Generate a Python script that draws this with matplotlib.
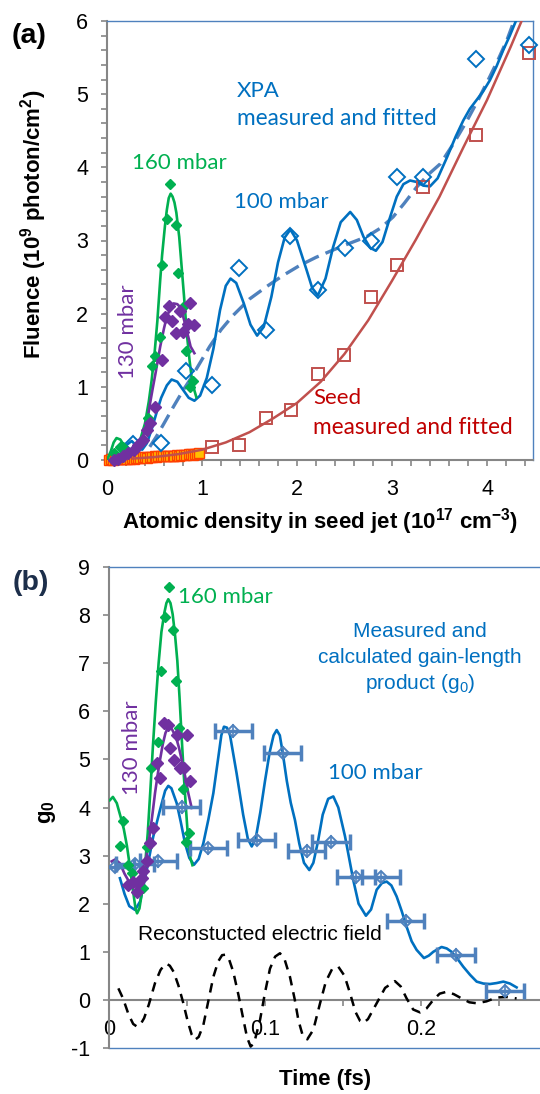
import matplotlib
matplotlib.use("Agg")
import matplotlib.pyplot as plt
from matplotlib.ticker import MultipleLocator, FixedLocator

plt.rcParams['font.family'] = 'Liberation Sans'
plt.rcParams['mathtext.fontset'] = 'custom'
plt.rcParams['mathtext.rm'] = 'Liberation Sans'
plt.rcParams['mathtext.bf'] = 'Liberation Sans:bold'
plt.rcParams['mathtext.it'] = 'Liberation Sans:italic'
plt.rcParams['axes.unicode_minus'] = False

# colours
GREEN = '#00b050'
PURPLE = '#7030a0'
BLUE = '#0070c0'
LBLUE = '#4f81bd'
RED = '#c0504d'
GRAY = '#868686'

# ---------------- panel (a) data ----------------
# XPA 100 mbar measured
xpa_x = [0.27, 0.57, 0.83, 1.10, 1.39, 1.67, 1.93, 2.22, 2.50, 2.78, 3.05, 3.33, 3.88, 4.44]
xpa_y = [0.22, 0.23, 1.21, 1.03, 2.62, 1.78, 3.06, 2.33, 2.90, 2.99, 3.87, 3.87, 5.48, 5.67]
# XPA fit (oscillating)
xpa_fit_x = [0.15, 0.20, 0.26, 0.32, 0.37, 0.42, 0.47, 0.52, 0.57, 0.63, 0.68, 0.74, 0.80, 0.86,
             0.92, 0.98, 1.05, 1.12, 1.19, 1.25, 1.30, 1.36, 1.44, 1.51, 1.58, 1.65, 1.73, 1.80,
             1.87, 1.93, 2.00, 2.10, 2.16, 2.22, 2.30, 2.38, 2.46, 2.56, 2.63, 2.70, 2.77, 2.83,
             2.90, 2.98, 3.05, 3.12, 3.19, 3.26, 3.33, 3.40, 3.48, 3.58, 3.67, 3.75, 3.82, 3.89,
             3.96, 4.03, 4.10, 4.17, 4.24, 4.32]
xpa_fit_y = [0.10, 0.20, 0.26, 0.18, 0.14, 0.23, 0.42, 0.64, 0.85, 1.02, 1.10, 1.07, 0.96, 0.85,
             0.81, 0.88, 1.12, 1.52, 2.05, 2.38, 2.48, 2.42, 2.14, 1.85, 1.70, 1.82, 2.23, 2.70,
             3.04, 3.15, 3.00, 2.60, 2.35, 2.25, 2.48, 2.91, 3.25, 3.39, 3.28, 3.05, 2.90, 2.86,
             2.98, 3.32, 3.60, 3.77, 3.82, 3.80, 3.75, 3.74, 3.85, 4.14, 4.42, 4.64, 4.80, 4.92,
             5.04, 5.19, 5.38, 5.60, 5.80, 6.05]
# XPA fit (smooth, dashed)
xpa_dash_x = [0.45, 0.52, 0.60, 0.70, 0.80, 0.87, 0.98, 1.08, 1.20, 1.33, 1.50, 1.68, 1.85, 2.03,
              2.20, 2.38, 2.55, 2.73, 2.88, 3.01, 3.13, 3.26, 3.38, 3.51, 3.65, 3.79, 3.91, 4.03,
              4.12, 4.21, 4.29]
xpa_dash_y = [0.18, 0.32, 0.50, 0.73, 0.95, 1.09, 1.33, 1.55, 1.78, 1.98, 2.20, 2.37, 2.52, 2.66,
              2.77, 2.87, 2.96, 3.05, 3.17, 3.32, 3.51, 3.73, 3.90, 4.05, 4.33, 4.64, 4.93, 5.24,
              5.48, 5.74, 6.02]
# Seed measured and fitted
seed_x = [1.11, 1.39, 1.67, 1.94, 2.22, 2.49, 2.78, 3.05, 3.33, 3.88, 4.44]
seed_y = [0.18, 0.21, 0.57, 0.68, 1.18, 1.43, 2.23, 2.67, 3.73, 4.44, 5.56]
seed_fit_x = [0.27, 0.50, 0.75, 1.00, 1.25, 1.50, 1.75, 2.00, 2.25, 2.50, 2.75, 3.00, 3.25, 3.50,
              3.75, 4.00, 4.25, 4.38]
seed_fit_y = [0.02, 0.04, 0.08, 0.14, 0.24, 0.38, 0.57, 0.78, 1.07, 1.45, 1.91, 2.45, 3.01, 3.60,
              4.27, 4.92, 5.65, 6.05]
# low density seed points
low_x = [0.02, 0.04, 0.06, 0.08, 0.10, 0.12, 0.15, 0.17, 0.19, 0.21, 0.24, 0.26, 0.28, 0.31,
         0.33, 0.35, 0.38, 0.40, 0.42, 0.45, 0.47, 0.50, 0.52, 0.54, 0.57, 0.59, 0.62, 0.64,
         0.66, 0.69, 0.71, 0.74, 0.76, 0.78, 0.81, 0.83, 0.86, 0.88, 0.90, 0.93, 0.95, 0.97]
low_y = [0.00, 0.01, 0.00, 0.02, 0.01, 0.01, 0.02, 0.01, 0.02, 0.02, 0.02, 0.03, 0.02, 0.03,
         0.03, 0.03, 0.04, 0.04, 0.03, 0.04, 0.04, 0.05, 0.04, 0.05, 0.05, 0.05, 0.06, 0.05,
         0.06, 0.06, 0.06, 0.07, 0.06, 0.07, 0.07, 0.07, 0.08, 0.08, 0.07, 0.08, 0.08, 0.09]
# 160 mbar
g160_x = [0.07, 0.14, 0.17, 0.43, 0.47, 0.51, 0.56, 0.58, 0.63, 0.66, 0.73, 0.75, 0.80, 0.83, 0.87, 0.91]
g160_y = [0.10, 0.18, 0.18, 0.58, 1.28, 1.42, 1.68, 2.67, 3.29, 3.77, 3.21, 2.56, 2.09, 1.49, 1.00, 1.08]
g160_fit_x = [0.00, 0.04, 0.07, 0.10, 0.14, 0.19, 0.24, 0.30, 0.35, 0.40, 0.44, 0.47, 0.50, 0.53,
              0.56, 0.58, 0.61, 0.63, 0.65, 0.67, 0.69, 0.71, 0.73, 0.76, 0.78, 0.81, 0.84, 0.87,
              0.89, 0.92, 0.94]
g160_fit_y = [0.00, 0.12, 0.24, 0.30, 0.28, 0.18, 0.14, 0.18, 0.28, 0.50, 0.80, 1.09, 1.45, 1.90,
              2.46, 2.80, 3.20, 3.42, 3.58, 3.64, 3.60, 3.52, 3.38, 3.05, 2.73, 2.25, 1.73, 1.35,
              1.14, 0.95, 0.86]
# 130 mbar
p130_x = [0.07, 0.12, 0.17, 0.22, 0.28, 0.33, 0.38, 0.42, 0.45, 0.51, 0.58, 0.61, 0.65, 0.68,
          0.73, 0.77, 0.80, 0.85, 0.87, 0.92]
p130_y = [0.00, 0.02, 0.05, 0.09, 0.14, 0.21, 0.27, 0.41, 0.50, 0.73, 1.37, 1.96, 2.10, 1.90,
          1.74, 2.03, 1.75, 1.86, 2.14, 1.84]
p130_fit_x = [0.03, 0.10, 0.18, 0.25, 0.32, 0.38, 0.42, 0.45, 0.48, 0.51, 0.56, 0.60, 0.63, 0.67,
              0.70, 0.74, 0.77, 0.80, 0.83, 0.86, 0.88, 0.92]
p130_fit_y = [0.00, 0.02, 0.06, 0.12, 0.21, 0.33, 0.50, 0.75, 0.97, 1.18, 1.55, 1.80, 1.96, 2.08,
              2.14, 2.13, 2.09, 1.97, 1.82, 1.66, 1.55, 1.46]

# ---------------- panel (b) data ----------------
g0_x = [0.0038, 0.0167, 0.0316, 0.0466, 0.0637, 0.0797, 0.0947, 0.1113, 0.1267, 0.1423,
        0.1583, 0.1744, 0.1902, 0.2224, 0.2538]
g0_y = [2.77, 2.82, 2.88, 4.01, 3.15, 5.59, 3.33, 5.14, 3.10, 3.29, 2.55, 2.55, 1.65, 0.94, 0.19]
g0_err = 0.012
g0_fit_x = [0.007, 0.010, 0.013, 0.0167, 0.020, 0.0242, 0.0284, 0.0327, 0.036, 0.038, 0.040,
            0.0434, 0.046, 0.0487, 0.0515, 0.0545, 0.0575, 0.0605, 0.0637, 0.0669, 0.0701,
            0.072, 0.0737, 0.0756, 0.0776, 0.0818, 0.086, 0.089, 0.0915, 0.094, 0.097, 0.100,
            0.103, 0.1055, 0.1075, 0.1095, 0.1113, 0.114, 0.1165, 0.1192, 0.122, 0.125, 0.1284,
            0.131, 0.134, 0.137, 0.1405, 0.1438, 0.147, 0.1513, 0.1566, 0.160, 0.1647, 0.168,
            0.1716, 0.175, 0.178, 0.181, 0.1844, 0.1876, 0.1908, 0.194, 0.1972, 0.2019, 0.205,
            0.2079, 0.2132, 0.2165, 0.2196, 0.2235, 0.2271, 0.2315, 0.2357, 0.240, 0.2442,
            0.2485, 0.2528, 0.257, 0.2613]
g0_fit_y = [2.53, 2.20, 1.95, 1.87, 2.05, 2.70, 3.40, 3.95, 4.35, 4.45, 4.40, 4.09, 3.70, 3.26,
            2.95, 2.81, 2.93, 3.26, 3.75, 4.30, 5.05, 5.50, 5.68, 5.66, 5.50, 4.71, 3.85, 3.35,
            3.19, 3.35, 3.90, 4.55, 5.15, 5.50, 5.61, 5.50, 5.15, 4.55, 4.10, 3.74, 3.25, 2.85,
            2.70, 2.85, 3.30, 3.85, 4.18, 4.23, 4.00, 3.40, 2.49, 2.00, 1.75, 1.88, 2.29, 2.43,
            2.46, 2.38, 2.15, 1.85, 1.52, 1.22, 1.04, 0.87, 0.92, 1.00, 1.10, 1.07, 1.00, 0.85,
            0.69, 0.52, 0.38, 0.34, 0.33, 0.35, 0.38, 0.34, 0.26]
g2_x = [0.0071, 0.0088, 0.0124, 0.0145, 0.0220, 0.0246, 0.0269, 0.0316, 0.0333, 0.0359, 0.0385,
        0.0412, 0.0429, 0.0449, 0.0472, 0.0494, 0.0515]
g2_y = [3.19, 3.71, 2.81, 2.63, 2.32, 3.17, 4.82, 5.37, 6.83, 7.96, 8.58, 7.68, 6.62, 5.65,
        4.38, 3.29, 3.47]
g2_fit_x = [0.0005, 0.0025, 0.005, 0.0075, 0.0095, 0.0115, 0.0135, 0.0155, 0.0170, 0.0180,
            0.0195, 0.0212, 0.0230, 0.0248, 0.0265, 0.0282, 0.030, 0.0318, 0.0336, 0.0355,
            0.0368, 0.038, 0.0394, 0.0408, 0.0423, 0.0438, 0.0452, 0.0466, 0.0480, 0.0494,
            0.0508, 0.0522, 0.0535]
g2_fit_y = [4.15, 4.22, 4.09, 3.80, 3.55, 3.20, 2.75, 2.25, 1.90, 1.80, 1.90, 2.25, 2.75, 3.45,
            4.35, 5.30, 6.20, 7.00, 7.65, 8.05, 8.25, 8.33, 8.25, 8.02, 7.60, 7.05, 6.30, 5.45,
            4.65, 3.95, 3.30, 2.95, 2.80]
p2_x = [0.0124, 0.0156, 0.0177, 0.0188, 0.0210, 0.0220, 0.0242, 0.0263, 0.0284, 0.0310, 0.0327,
        0.0355, 0.0380, 0.0391, 0.0417, 0.0438, 0.0455, 0.0481, 0.0502, 0.0519]
p2_y = [2.39, 2.46, 2.25, 2.43, 2.53, 2.67, 2.88, 3.26, 3.57, 4.92, 4.61, 5.75, 5.72, 5.23,
        4.99, 5.51, 4.82, 4.82, 5.51, 4.56]
p2_fit_x = [0.0017, 0.004, 0.007, 0.010, 0.013, 0.0155, 0.0175, 0.0195, 0.0215, 0.024, 0.0263,
            0.0280, 0.0295, 0.0312, 0.0327, 0.0345, 0.0362, 0.0378, 0.0391, 0.0405, 0.0420,
            0.0434, 0.0448, 0.0462, 0.0476, 0.0492, 0.0508, 0.0530]
p2_fit_y = [2.88, 2.92, 2.84, 2.62, 2.45, 2.36, 2.36, 2.48, 2.70, 2.98, 3.47, 3.90, 4.30, 4.68,
            4.99, 5.32, 5.55, 5.66, 5.68, 5.62, 5.52, 5.41, 5.25, 5.05, 4.85, 4.58, 4.30, 3.99]
# reconstructed electric field
ef_x = [0.006, 0.009, 0.0125, 0.0155, 0.0177, 0.020, 0.0225, 0.0255, 0.0295, 0.033, 0.0355,
        0.037, 0.039, 0.0415, 0.0445, 0.0475, 0.0505, 0.0530, 0.0551, 0.0575, 0.0605, 0.0635,
        0.0669, 0.070, 0.0725, 0.0745, 0.0770, 0.0797, 0.0830, 0.0861, 0.0885, 0.0908, 0.0930,
        0.0968, 0.1000, 0.1032, 0.1065, 0.1096, 0.1125, 0.116, 0.1190, 0.1214, 0.124, 0.1271,
        0.131, 0.1353, 0.139, 0.143, 0.147, 0.151, 0.1545, 0.158, 0.161, 0.163, 0.166, 0.1716,
        0.177, 0.1833, 0.187, 0.1908, 0.195, 0.1994, 0.2035, 0.2079, 0.212, 0.2165, 0.221,
        0.2261, 0.231, 0.2357, 0.242, 0.2485, 0.255, 0.2613]
ef_y = [0.24, 0.03, -0.30, -0.50, -0.55, -0.52, -0.38, -0.10, 0.35, 0.62, 0.73, 0.75, 0.71,
        0.58, 0.30, -0.05, -0.45, -0.72, -0.83, -0.77, -0.52, -0.05, 0.48, 0.80, 0.93, 0.94,
        0.84, 0.58, 0.10, -0.40, -0.78, -0.97, -0.90, -0.42, 0.15, 0.65, 0.90, 0.97, 0.85,
        0.48, 0.02, -0.42, -0.72, -0.82, -0.62, -0.07, 0.38, 0.64, 0.69, 0.50, 0.14, -0.25,
        -0.44, -0.48, -0.40, -0.07, 0.25, 0.39, 0.28, 0.03, -0.20, -0.26, -0.18, 0.00, 0.13,
        0.17, 0.12, 0.03, -0.05, -0.07, -0.03, 0.05, 0.06, 0.03]


def fx(p):
    return p / 540.0


def fy(p):
    return 1 - p / 1094.0


fig = plt.figure(figsize=(5.4, 10.94), dpi=100)

# ================= panel (a) =================
ax1 = fig.add_axes([fx(107), fy(460), (533 - 107) / 540, (460 - 21) / 1094])
ax1.set_xlim(0, 4.484)
ax1.set_ylim(0, 6)

ax1.plot(low_x, low_y, 's', ms=7, mfc='#ffc000', mec='#ff4000', mew=1, clip_on=False, zorder=3)
ax1.plot(seed_fit_x, seed_fit_y, '-', color=RED, lw=1.8, zorder=4)
ax1.plot(seed_x, seed_y, 's', ms=9, mfc='none', mec=RED, mew=1.4, clip_on=False, zorder=5)
ax1.plot(xpa_dash_x, xpa_dash_y, '--', color=LBLUE, lw=2.4, dashes=(4.5, 2.2), zorder=4)
ax1.plot(xpa_fit_x, xpa_fit_y, '-', color=BLUE, lw=1.9, zorder=4)
ax1.plot(xpa_x, xpa_y, 'D', ms=7.7, mfc='none', mec=BLUE, mew=1.4, clip_on=False, zorder=5)
ax1.plot(g160_fit_x, g160_fit_y, '-', color=GREEN, lw=1.9, zorder=4)
ax1.plot(g160_x, g160_y, 'D', ms=5.3, color=GREEN, clip_on=False, zorder=5)
ax1.plot(p130_fit_x, p130_fit_y, '-', color=PURPLE, lw=1.9, zorder=4)
ax1.plot(p130_x, p130_y, 'D', ms=5.8, color=PURPLE, clip_on=False, zorder=6)

for s in ['top', 'right']:
    ax1.spines[s].set_color(LBLUE)
    ax1.spines[s].set_linewidth(1.0)
for s in ['left', 'bottom']:
    ax1.spines[s].set_color(GRAY)
    ax1.spines[s].set_linewidth(1.5)
ax1.xaxis.set_major_locator(MultipleLocator(1))
ax1.xaxis.set_minor_locator(MultipleLocator(0.2))
ax1.yaxis.set_major_locator(MultipleLocator(1))
ax1.yaxis.set_minor_locator(MultipleLocator(0.2))
ax1.tick_params(which='both', direction='out', length=4.5, width=1.2, color=GRAY,
                labelsize=15.5, pad=9, top=False, right=False)

ax1.text(0.763, 4.06, '160 mbar', color=GREEN, fontsize=16, family='Lato',
         ha='center', va='center')
ax1.text(1.837, 3.53, '100 mbar', color=BLUE, fontsize=16, family='Lato',
         ha='center', va='center')
ax1.text(1.365, 5.05, 'XPA', color=BLUE, fontsize=16, family='Lato', ha='left', va='center')
ax1.text(1.365, 4.67, 'measured and fitted', color=BLUE, fontsize=16.3, family='Lato',
         ha='left', va='center')
ax1.text(2.17, 0.85, 'Seed', color='#c00000', fontsize=16, family='Lato', ha='left', va='center')
ax1.text(2.17, 0.44, 'measured and fitted', color='#c00000', fontsize=16.3, family='Lato',
         ha='left', va='center')
ax1.text(0.22, 1.76, '130 mbar', color=PURPLE, fontsize=16, family='Lato', rotation=90,
         ha='center', va='center')

fig.text(fx(12), fy(36), '(a)', fontsize=20.5, fontweight='bold', ha='left', va='center')
fig.text(fx(34), fy(224), r'Fluence (10$^{\mathbf{9}}$ photon/cm$^{\mathbf{2}}$)',
         fontsize=16, fontweight='bold', rotation=90, ha='center', va='center')
fig.text(fx(320), fy(522), r'Atomic density in seed jet (10$^{\mathbf{17}}$ cm$^{\mathbf{-3}}$)',
         fontsize=16, fontweight='bold', ha='center', va='center')

# ================= panel (b) =================
ax2 = fig.add_axes([fx(109), fy(1048), (540 - 109) / 540, (1048 - 567) / 1094])
ax2.set_xlim(0, 0.2763)
ax2.set_ylim(-1, 9)

ax2.plot(ef_x, ef_y, '--', color='black', lw=1.8, dashes=(3.8, 2.8), zorder=3)
ax2.plot(g0_fit_x, g0_fit_y, '-', color=BLUE, lw=1.9, zorder=4)
ax2.plot(g2_fit_x, g2_fit_y, '-', color=GREEN, lw=1.9, zorder=4)
ax2.plot(p2_fit_x, p2_fit_y, '-', color=PURPLE, lw=1.9, zorder=4)
ax2.errorbar(g0_x, g0_y, xerr=g0_err, fmt='none', ecolor=LBLUE, elinewidth=2.5,
             capsize=5.5, capthick=2.5, zorder=5)
ax2.errorbar(g0_x, g0_y, yerr=0.14, fmt='D', ms=6.3, mfc='none', mec=LBLUE, mew=1.4,
             ecolor=LBLUE, elinewidth=1.2, capsize=0, zorder=6)
ax2.plot(g2_x, g2_y, 'D', ms=5.3, color=GREEN, zorder=7)
ax2.plot(p2_x, p2_y, 'D', ms=5.8, color=PURPLE, zorder=7)

ax2.spines['top'].set_color(LBLUE)
ax2.spines['top'].set_linewidth(1.0)
ax2.spines['right'].set_visible(False)
ax2.spines['left'].set_color(GRAY)
ax2.spines['left'].set_linewidth(1.5)
ax2.spines['bottom'].set_position(('data', 0))
ax2.spines['bottom'].set_color(GRAY)
ax2.spines['bottom'].set_linewidth(1.5)
ax2.axhline(-1, color=LBLUE, lw=1.0, clip_on=False, zorder=2)
ax2.xaxis.set_major_locator(FixedLocator([0, 0.1, 0.2]))
ax2.set_xticklabels(['0', '0.1', '0.2'])
ax2.xaxis.set_minor_locator(MultipleLocator(0.05))
ax2.yaxis.set_major_locator(MultipleLocator(1))
ax2.tick_params(which='both', direction='out', length=4.5, width=1.2, color=GRAY,
                labelsize=15.5, pad=9, top=False, right=False)

ax2.text(0.0444, 8.38, '160 mbar', color=GREEN, fontsize=16, family='Lato',
         ha='left', va='center')
ax2.text(0.01455, 5.24, '130 mbar', color=PURPLE, fontsize=16, family='Lato', rotation=90,
         ha='center', va='center')
ax2.text(0.1404, 4.72, '100 mbar', color=BLUE, fontsize=16, family='Lato',
         ha='left', va='center')
ax2.text(0.1994, 7.65, 'Measured and', color=BLUE, fontsize=15, ha='center', va='center')
ax2.text(0.1994, 7.11, 'calculated gain-length', color=BLUE, fontsize=15, ha='center', va='center')
ax2.text(0.1994, 6.57, r'product ($\mathrm{g}_0$)', color=BLUE, fontsize=15, ha='center', va='center')
ax2.text(0.0186, 1.35, 'Reconstucted electric field', color='black', fontsize=15,
         ha='left', va='center')

fig.text(fx(13), fy(583), '(b)', fontsize=20.5, fontweight='bold', color='#1c2e4a',
         ha='left', va='center')
fig.text(fx(47), fy(812), r'$\mathbf{g_0}$', fontsize=16, rotation=90, ha='center', va='center')
fig.text(fx(325), fy(1080), 'Time (fs)', fontsize=16, fontweight='bold', ha='center', va='center')

fig.savefig('out.png', dpi=100)
